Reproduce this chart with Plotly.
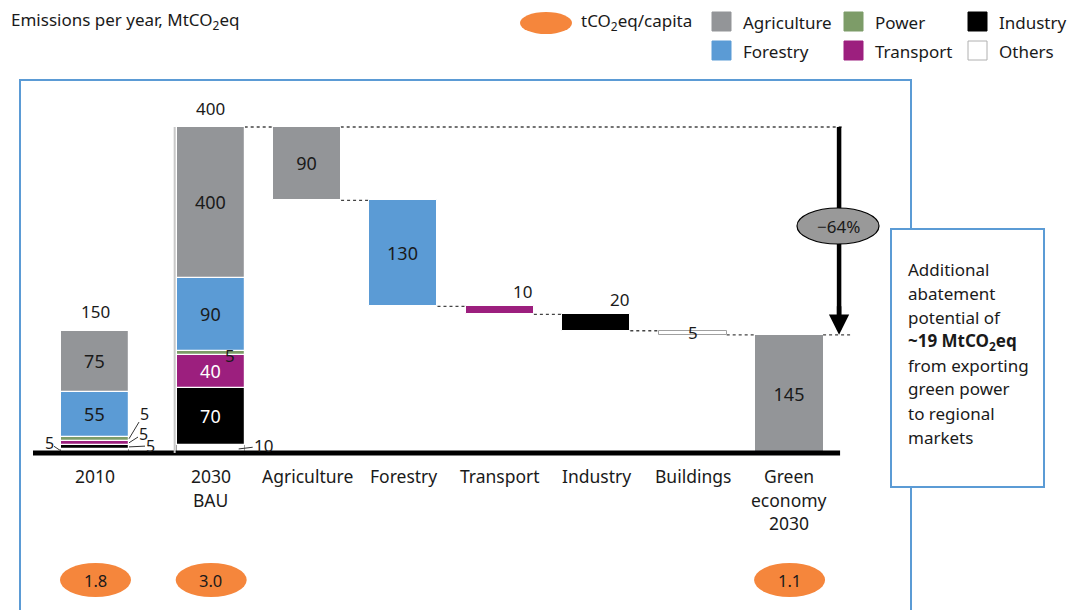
import numpy as np
import plotly.graph_objects as go

# ---------------- data ----------------
# stacking order, bottom -> top
sectors = ["Others", "Industry", "Transport", "Power", "Forestry", "Agriculture"]
emissions_2010 = [5, 5, 5, 5, 55, 75]
total_2010 = 150

total_bau = 400
bau_others, bau_industry, bau_transport, bau_power, bau_forestry = 10, 70, 40, 5, 90
bau_agriculture = total_bau - (bau_others + bau_industry + bau_transport + bau_power + bau_forestry)
emissions_bau = [bau_others, bau_industry, bau_transport, bau_power, bau_forestry, bau_agriculture]
bau_segment_labels = ["10", "70", "40", "5", "90", "400"]

levers = ["Agriculture", "Forestry", "Transport", "Industry", "Buildings"]
abatement = [90, 130, 10, 20, 5]
green_2030 = 145
reduction_label = "\u221264%"

categories = ["2010", "2030<br>BAU", "Agriculture", "Forestry", "Transport",
              "Industry", "Buildings", "Green<br>economy<br>2030"]
per_capita = [1.8, 3.0, 1.1]
per_capita_cats = [0, 1, 7]

# ---------------- styling ----------------
W, H = 1076, 610
FONT = "Noto Sans, Open Sans, sans-serif"
TXT = "#1a1a1a"
colors = {"Agriculture": "#939598", "Forestry": "#5b9bd5", "Power": "#7d9c68",
          "Transport": "#9c1f7e", "Industry": "#000000", "Others": "#ffffff"}
lever_colors = ["Agriculture", "Forestry", "Transport", "Industry", "Others"]
FRAME = "#5b9bd5"
ORANGE = "#f5863c"

# horizontal slots: the first gap is a little wider than the rest
slot = [0, 1.2, 2.2, 3.2, 4.2, 5.2, 6.2, 7.2]
X0_PX, SLOT_PX = 95, 96.4          # pixel of first slot, pixels per slot
BASE_PX, PX_PER_MT = 453, 0.815    # baseline pixel, pixels per MtCO2eq
BAR_W = 68 / SLOT_PX
HALF = BAR_W / 2


def px_x(px):
    return px / W


def px_y(py):
    return 1 - py / H


def dx(px):
    return px / SLOT_PX


def dy(px):
    return px / PX_PER_MT


def label(**kw):
    base = dict(showarrow=False, xanchor="center", yanchor="middle",
                font=dict(family=FONT, size=17, color=TXT))
    base.update(kw)
    return base


fig = go.Figure()

# ---------------- stacked bars: 2010 and 2030 BAU ----------------
cum10 = np.concatenate([[0], np.cumsum(emissions_2010)[:-1]])
cumbau = np.concatenate([[0], np.cumsum(emissions_bau)[:-1]])
labels_2010 = ["", "", "", "", "55", "75"]
for i, s in enumerate(sectors):
    t10 = labels_2010[i]
    tb = bau_segment_labels[i] if s in ("Agriculture", "Forestry", "Transport", "Industry") else ""
    fc = "white" if s in ("Transport", "Industry") else TXT
    fig.add_trace(go.Bar(
        x=[slot[0], slot[1]], y=[emissions_2010[i], emissions_bau[i]],
        base=[cum10[i], cumbau[i]], width=BAR_W,
        marker=dict(color=colors[s],
                    line=dict(color="#a0a0a0" if s == "Others" else "white",
                              width=1 if s == "Others" else 1.2)),
        text=[t10, tb], textposition="inside", insidetextanchor="middle",
        textfont=dict(family=FONT, size=18, color=[TXT, fc]),
        constraintext="none", showlegend=False, hoverinfo="skip",
    ))

# ---------------- waterfall of abatement levers ----------------
lever_base = total_bau - np.cumsum(abatement)
fig.add_trace(go.Bar(
    x=slot[2:7], y=abatement, base=lever_base, width=BAR_W,
    marker=dict(color=[colors[c] for c in lever_colors],
                line=dict(color=["white"] * 4 + ["#a0a0a0"], width=1)),
    text=["90", "130", "", "", ""], textposition="inside", insidetextanchor="middle",
    textfont=dict(family=FONT, size=18, color=TXT),
    constraintext="none", showlegend=False, hoverinfo="skip",
))
fig.add_trace(go.Bar(
    x=[slot[7]], y=[green_2030], base=[0], width=BAR_W,
    marker=dict(color=colors["Agriculture"], line=dict(width=0)),
    text=[str(green_2030)], textposition="inside", insidetextanchor="middle",
    textfont=dict(family=FONT, size=18, color=TXT),
    constraintext="none", showlegend=False, hoverinfo="skip",
))

shapes = []
ann = []

# outer frame and baseline
shapes.append(dict(type="rect", xref="paper", yref="paper", x0=px_x(20), x1=px_x(911),
                   y0=px_y(640), y1=px_y(80), line=dict(color=FRAME, width=2), layer="below"))
shapes.append(dict(type="line", xref="x", yref="y", x0=slot[0] - HALF - dx(28), x1=slot[7] + HALF + dx(17),
                   y0=0, y1=0, line=dict(color="black", width=5)))
# light rule along the BAU bar
shapes.append(dict(type="line", xref="x", yref="y", x0=slot[1] - HALF - dx(2), x1=slot[1] - HALF - dx(2),
                   y0=0, y1=total_bau, line=dict(color="#c8c8c8", width=2)))

# dotted connectors
dot = dict(color="#444444", width=1.3, dash="dot")
arrow_x = slot[7] + HALF + dx(16)
shapes.append(dict(type="line", xref="x", yref="y", x0=slot[1] + HALF, x1=arrow_x + dx(4),
                   y0=total_bau, y1=total_bau, line=dot, layer="below"))
for k in range(len(abatement)):
    shapes.append(dict(type="line", xref="x", yref="y", x0=slot[2 + k] + HALF, x1=slot[3 + k] - HALF,
                       y0=lever_base[k], y1=lever_base[k], line=dot, layer="below"))
shapes.append(dict(type="line", xref="x", yref="y", x0=slot[7] + HALF, x1=arrow_x + dx(13),
                   y0=green_2030, y1=green_2030, line=dot, layer="below"))

# reduction arrow: shaft under the badge, head drawn just above the target level
shapes.append(dict(type="line", xref="x", yref="y", x0=arrow_x, x1=arrow_x,
                   y0=total_bau, y1=green_2030 + dy(10), line=dict(color="black", width=4.5)))
ann.append(dict(x=arrow_x, y=green_2030, ax=arrow_x, ay=green_2030 + dy(30), xref="x", yref="y",
                axref="x", ayref="y", showarrow=True, arrowhead=2, arrowsize=0.9,
                arrowwidth=4.5, arrowcolor="black", text="", standoff=0))
shapes.append(dict(type="circle", xref="paper", yref="paper", x0=px_x(797), x1=px_x(879),
                   y0=px_y(244), y1=px_y(208), fillcolor="#999999",
                   line=dict(color="black", width=1.2)))
ann.append(label(x=px_x(838), y=px_y(226), xref="paper", yref="paper", text=reduction_label))

# totals above the stacks
ann.append(label(x=slot[0], y=total_2010, xref="x", yref="y", text=str(total_2010),
                 yanchor="bottom", yshift=6))
ann.append(label(x=slot[1], y=total_bau, xref="x", yref="y", text=str(total_bau),
                 yanchor="bottom", yshift=5))

# small segment labels with leaders (2010)
mid10 = cum10 + np.array(emissions_2010) / 2
small = [  # (segment index, anchor side, ax, ay)
    (0, -1, -12, -8),
    (1, +1, 21, -1),
    (2, +1, 14, -9),
    (3, +1, 15, -25),
]
for idx, side, axp, ayp in small:
    ann.append(label(x=slot[0] + side * HALF, y=mid10[idx], xref="x", yref="y",
                     text=str(emissions_2010[idx]), showarrow=True, arrowhead=0, arrowwidth=1,
                     arrowcolor="#333333", ax=axp, ay=ayp, standoff=0, borderpad=0,
                     font=dict(family=FONT, size=16, color=TXT)))

# small segment labels (2030 BAU)
midbau = cumbau + np.array(emissions_bau) / 2
ann.append(label(x=slot[1], y=midbau[3], xref="x", yref="y", text=str(bau_power), xshift=19,
                 yshift=-2))
ann.append(label(x=slot[1] + HALF - dx(6), y=midbau[0], xref="x", yref="y", text=str(bau_others),
                 showarrow=True, arrowhead=0, arrowwidth=1, arrowcolor="#333333",
                 ax=25, ay=-3, standoff=0))

# labels for the thin lever bars
tops = lever_base + np.array(abatement)
for k, xs in ((2, 23), (3, 23)):
    ann.append(label(x=slot[2 + k], y=tops[k], xref="x", yref="y", text=str(abatement[k]),
                     xshift=xs, yshift=1, yanchor="bottom"))
ann.append(label(x=slot[6], y=lever_base[4] + abatement[4] / 2, xref="x", yref="y",
                 text=str(abatement[4])))

# category labels, one annotation per line
for k, c in enumerate(categories):
    for j, line in enumerate(c.split("<br>")):
        ann.append(label(x=slot[k], y=px_y(476 + 23.5 * j), xref="x", yref="paper", text=line,
                         font=dict(family=FONT, size=17.5, color=TXT)))

# per-capita ellipses
for k, v in zip(per_capita_cats, per_capita):
    shapes.append(dict(type="circle", xref="x", yref="paper", x0=slot[k] - dx(35), x1=slot[k] + dx(36),
                       y0=px_y(597), y1=px_y(563), fillcolor=ORANGE, line=dict(width=0)))
    ann.append(label(x=slot[k], y=px_y(580), xref="x", yref="paper", text=f"{v:.1f}",
                     font=dict(family=FONT, size=16.5, color=TXT)))

# side note box
shapes.append(dict(type="rect", xref="paper", yref="paper", x0=px_x(891), x1=px_x(1044),
                   y0=px_y(487), y1=px_y(229), fillcolor="white", line=dict(color=FRAME, width=2)))
note = ["Additional", "abatement", "potential of", "<b>~19 MtCO<sub>2</sub>eq</b>",
        "from exporting", "green power", "to regional", "markets"]
for j, line in enumerate(note):
    ann.append(label(x=px_x(906), y=px_y(269 + 24 * j), xref="paper", yref="paper", text=line,
                     xanchor="left"))

# title
ann.append(label(x=px_x(9), y=px_y(20), xref="paper", yref="paper",
                 text="Emissions per year, MtCO<sub>2</sub>eq", xanchor="left"))

# legend
shapes.append(dict(type="circle", xref="paper", yref="paper", x0=px_x(520), x1=px_x(572),
                   y0=px_y(34), y1=px_y(12), fillcolor=ORANGE, line=dict(width=0)))
ann.append(label(x=px_x(579), y=px_y(22), xref="paper", yref="paper",
                 text="tCO<sub>2</sub>eq/capita", xanchor="left"))
legend_items = [("Agriculture", 712, 21.5), ("Power", 844, 21.5), ("Industry", 968, 21.5),
                ("Forestry", 712, 50.5), ("Transport", 844, 50.5), ("Others", 968, 50.5)]
for name, lx, ly in legend_items:
    shapes.append(dict(type="rect", xref="paper", yref="paper", x0=px_x(lx), x1=px_x(lx + 19),
                       y0=px_y(ly + 9.5), y1=px_y(ly - 9.5), fillcolor=colors[name],
                       line=dict(color="#b0b0b0" if name == "Others" else colors[name], width=1)))
    ann.append(label(x=px_x(lx + 29), y=px_y(ly + 1), xref="paper", yref="paper", text=name,
                     xanchor="left"))

fig.update_layout(
    width=W, height=H, margin=dict(l=0, r=0, t=0, b=0),
    paper_bgcolor="white", plot_bgcolor="white",
    barmode="overlay", bargap=0,
    xaxis=dict(range=[-X0_PX / SLOT_PX, (W - X0_PX) / SLOT_PX], visible=False, fixedrange=True),
    yaxis=dict(range=[-(H - BASE_PX) / PX_PER_MT, BASE_PX / PX_PER_MT], visible=False, fixedrange=True),
    shapes=shapes, annotations=ann, showlegend=False,
    font=dict(family=FONT, color=TXT),
)

fig.write_html("out.html")
